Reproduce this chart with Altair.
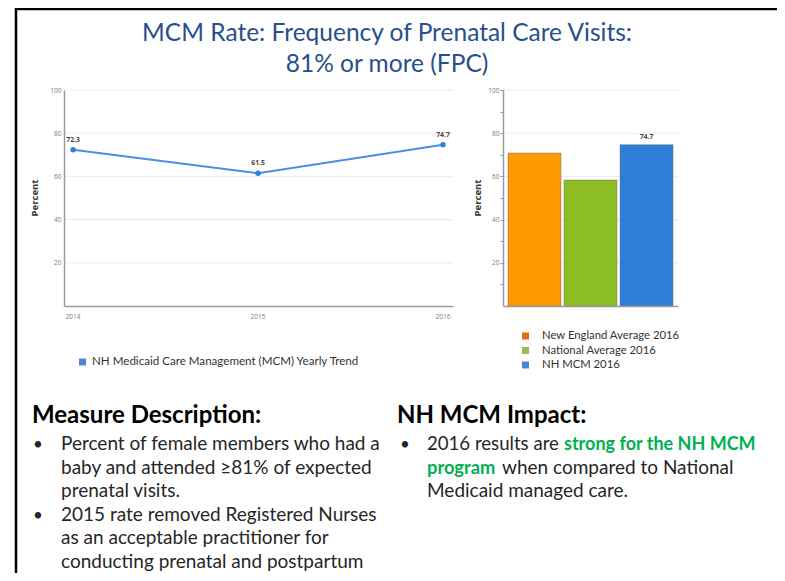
import altair as alt
import pandas as pd

# ---------------- data ----------------
years = [2014, 2015, 2016]
year_labels = ["2014", "2015", "2016"]
mcm_rates = [72.3, 61.5, 74.7]
mcm_labels = ["72.3", "61.5", "74.7"]

bar_cats = ["New England Average 2016", "National Average 2016", "NH MCM 2016"]
bar_vals = [70.8, 58.3, 74.7]
bar_colors = ["#FF9900", "#8CBD23", "#2E7ED8"]
legend_colors = ["#E46C0A", "#9BBB59", "#4A86D8"]
legend_labels = ["New England Average 2016", "National Average 2016", "NH MCM  2016"]

grid_vals = [20, 40, 60, 80, 100]
bar_tick_vals = [10, 20, 30, 40, 50, 60, 70, 80, 90, 100]

title_lines = ["MCM Rate: Frequency of Prenatal Care Visits:", "81% or more (FPC)"]
left_heading = "Measure Description:"
left_lines = [
    "Percent of female members who had a",
    "baby and attended \u226581% of expected",
    "prenatal visits.",
    "2015 rate removed Registered Nurses",
    "as an acceptable practitioner for",
    "conducting prenatal and postpartum",
]
right_heading = "NH MCM Impact:"

W, H = 769, 565
one = pd.DataFrame({"k": [0]})
line_df = pd.DataFrame({"year": years, "value": mcm_rates, "label": mcm_labels,
                        "ylab": year_labels})
bar_df = pd.DataFrame({"cat": bar_cats, "value": bar_vals})
grid_df = pd.DataFrame({"v": grid_vals})

AX = "#9a9a9a"
GRID = "#EBEBEB"
TICKFONT = "Open Sans"
BODY = "Lato"


def txt(s, x, y, size, weight="normal", color="#262626", font=BODY, align="left",
        angle=0, baseline="alphabetic"):
    return alt.Chart(one).mark_text(
        text=s, fontSize=size, fontWeight=weight, color=color, font=font,
        align=align, baseline=baseline, angle=angle
    ).encode(x=alt.value(x), y=alt.value(y))


# ---------------- left line chart ----------------
ys = alt.Scale(domain=[0, 100], range=[298, 82], nice=False)
xs_line = alt.Scale(domain=[2013.951, 2016.054], range=[56, 445], nice=False, zero=False)

y_axis_l = alt.Axis(orient="left", offset=-56, values=grid_vals, grid=False, ticks=False,
                    domainColor=AX, domainWidth=1.5, labelFont=TICKFONT, labelFontSize=6.5,
                    labelColor="#7a7a7a", labelPadding=3, labelOverlap=False, title=None, zindex=1)
x_axis_l = alt.Axis(orient="bottom", offset=-(H - 298), labels=False, grid=False,
                    ticks=False, domainColor=AX, domainWidth=1.5, title=None, zindex=1)

grid_l = alt.Chart(grid_df).mark_rule(color=GRID, strokeWidth=1).encode(
    y=alt.Y("v:Q", scale=ys, axis=y_axis_l), x=alt.value(56), x2=alt.value(445))
line = alt.Chart(line_df).mark_line(color="#4A8FE6", strokeWidth=2).encode(
    x=alt.X("year:Q", scale=xs_line, axis=x_axis_l),
    y=alt.Y("value:Q", scale=ys, axis=y_axis_l))
pts = alt.Chart(line_df).mark_circle(size=30, color="#2F7FE0", opacity=1).encode(
    x=alt.X("year:Q", scale=xs_line, axis=x_axis_l),
    y=alt.Y("value:Q", scale=ys, axis=y_axis_l))
lbl = alt.Chart(line_df).mark_text(dy=-10, font=TICKFONT, fontSize=6.8, fontWeight="bold",
                                   color="#444").encode(
    x=alt.X("year:Q", scale=xs_line, axis=x_axis_l),
    y=alt.Y("value:Q", scale=ys, axis=y_axis_l), text="label:N")
xlab = alt.Chart(line_df).mark_text(font=TICKFONT, fontSize=6.5, color="#7a7a7a",
                                    baseline="middle").encode(
    x=alt.X("year:Q", scale=xs_line, axis=x_axis_l), y=alt.value(309), text="ylab:N")
left = alt.layer(grid_l, line, pts, lbl, xlab)

# ---------------- right bar chart ----------------
xb = alt.Scale(domain=bar_cats, range=[495, 670], paddingInner=0.054, paddingOuter=0.089)
y_axis_r = alt.Axis(orient="left", offset=-495, values=bar_tick_vals,
                    labelExpr="datum.value % 20 == 0 ? datum.label : ''",
                    grid=False, ticks=True, tickSize=3, tickColor=AX, domainColor=AX,
                    domainWidth=1.5, labelFont=TICKFONT, labelFontSize=6.5, labelColor="#7a7a7a",
                    labelPadding=1, labelOverlap=False, title=None, zindex=1)
x_axis_r = alt.Axis(orient="bottom", offset=-(H - 298), labels=False, ticks=False, grid=False,
                    domainColor=AX, domainWidth=1.5, title=None, zindex=1)

grid_r = alt.Chart(grid_df).mark_rule(color=GRID, strokeWidth=1).encode(
    y=alt.Y("v:Q", scale=ys, axis=y_axis_r), x=alt.value(495), x2=alt.value(670))
bars = alt.Chart(bar_df).mark_bar(stroke="#6f6f6f", strokeWidth=0.8, strokeOpacity=0.6).encode(
    x=alt.X("cat:N", scale=xb, axis=x_axis_r, sort=bar_cats),
    y=alt.Y("value:Q", scale=ys, axis=y_axis_r),
    color=alt.Color("cat:N", scale=alt.Scale(domain=bar_cats, range=bar_colors), legend=None))
bar_lbl = alt.Chart(bar_df).transform_filter(alt.datum.cat == "NH MCM 2016").mark_text(
    dy=-8, font=TICKFONT, fontSize=6.8, fontWeight="bold", color="#444").encode(
    x=alt.X("cat:N", scale=xb, axis=x_axis_r, sort=bar_cats),
    y=alt.Y("value:Q", scale=ys, axis=y_axis_r),
    text=alt.Text("value:Q", format=".1f"))
right = alt.layer(grid_r, bars, bar_lbl)

# ---------------- annotations ----------------
ann = []
# slide frame
ann.append(alt.Chart(one).mark_rule(color="#000", strokeWidth=2.5).encode(
    x=alt.value(7), x2=alt.value(W), y=alt.value(1)))
ann.append(alt.Chart(one).mark_rule(color="#000", strokeWidth=2.5).encode(
    x=alt.value(8), y=alt.value(0), y2=alt.value(H)))
# title
ann.append(txt(title_lines[0], 379, 33, 24.5, color="#264F8C", align="center"))
ann.append(txt(title_lines[1], 379, 64, 24.5, color="#264F8C", align="center"))
# axis titles
ann.append(txt("Percent", 27, 190, 9.5, weight="bold", color="#333", font=TICKFONT,
               align="center", angle=270, baseline="middle"))
ann.append(txt("Percent", 470, 190, 9.5, weight="bold", color="#333", font=TICKFONT,
               align="center", angle=270, baseline="middle"))
# left legend
ann.append(alt.Chart(one).mark_square(size=49, color="#4F86D6", opacity=1).encode(
    x=alt.value(74.5), y=alt.value(354)))
ann.append(txt("NH Medicaid Care Management (MCM) Yearly Trend", 84, 354, 11.6,
               color="#333", baseline="middle"))
# right legend
for i, (lab, col) in enumerate(zip(legend_labels, legend_colors)):
    yy = 328 + i * 14.5
    ann.append(alt.Chart(one).mark_square(size=49, color=col, opacity=1).encode(
        x=alt.value(517.5), y=alt.value(yy)))
    ann.append(txt(lab, 534, yy, 11.3, color="#333", baseline="middle"))
# headings
ann.append(txt(left_heading, 24, 415, 24, weight="bold", color="#000"))
ann.append(txt(right_heading, 389, 415, 24, weight="bold", color="#000"))
# left bullets
base = [441.5, 465.5, 489, 512.5, 536, 559.5]
for i, s in enumerate(left_lines):
    ann.append(txt(s, 53, base[i], 19))
ann.append(txt("\u2022", 25, base[0], 17))
ann.append(txt("\u2022", 25, base[3], 17))
# right bullet
ann.append(txt("\u2022", 392, base[0], 17))
ann.append(txt("2016 results are", 419, base[0], 18.6))
ann.append(txt("strong for the NH MCM", 556, base[0], 18, weight="bold", color="#00B050"))
ann.append(txt("program", 419, base[1], 18.3, weight="bold", color="#00B050"))
ann.append(txt("when compared to National", 494, base[1], 19))
ann.append(txt("Medicaid managed care.", 419, base[2], 19))

chart = alt.layer(left, right, *ann).resolve_scale(
    x="independent", y="independent", color="independent"
).resolve_axis(x="independent", y="independent").properties(
    width=W, height=H, autosize="none", padding=0
).configure_view(stroke=None)

chart.save("out.html", embed_options={"renderer": "svg", "actions": False})
